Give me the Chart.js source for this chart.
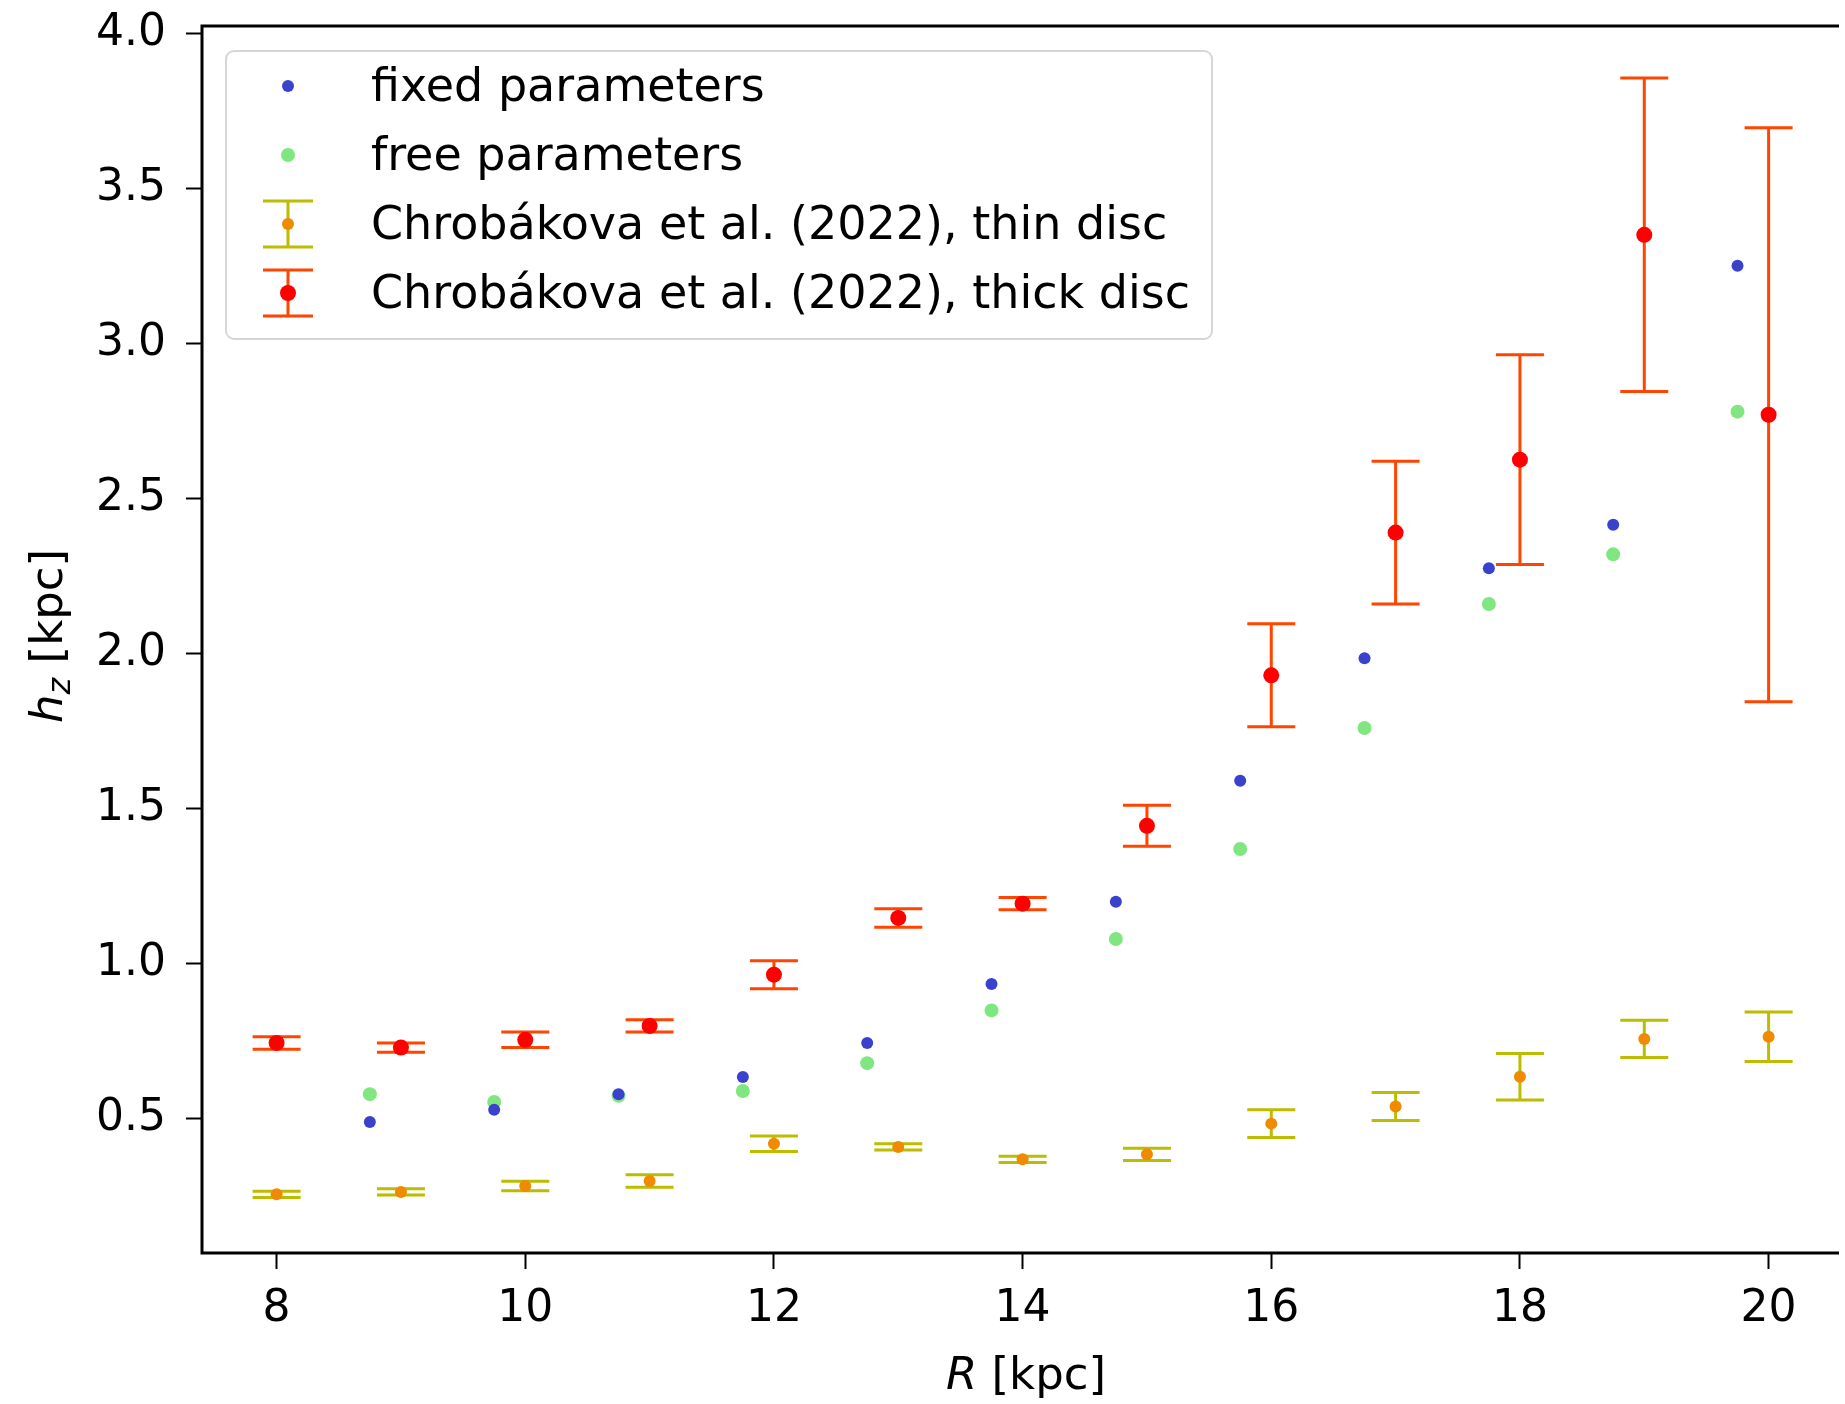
<!DOCTYPE html>
<html>
<head>
<meta charset="utf-8">
<script src="https://cdn.jsdelivr.net/npm/chart.js@4.4.1/dist/chart.umd.min.js"></script>
<style>
html,body{margin:0;padding:0;background:#fff;overflow:hidden;}
canvas{display:block;}
</style>
</head>
<body>
<canvas id="c" width="1845" height="1404"></canvas>
<script>
// ---- data ----
const R_model = [8.75, 9.75, 10.75, 11.75, 12.75, 13.75, 14.75, 15.75, 16.75, 17.75, 18.75, 19.75];
const hz_fixed = [0.49, 0.53, 0.58, 0.635, 0.745, 0.935, 1.20, 1.59, 1.985, 2.275, 2.415, 3.25];
const hz_free  = [0.58, 0.555, 0.575, 0.59, 0.68, 0.85, 1.08, 1.37, 1.76, 2.16, 2.32, 2.78];
const R_chr = [8, 9, 10, 11, 12, 13, 14, 15, 16, 17, 18, 19, 20];
const hz_thin  = [0.257, 0.265, 0.284, 0.30, 0.42, 0.41, 0.37, 0.386, 0.485, 0.54, 0.636, 0.758, 0.765];
const err_thin = [0.01, 0.01, 0.015, 0.02, 0.025, 0.01, 0.01, 0.02, 0.045, 0.045, 0.075, 0.06, 0.08];
const hz_thick  = [0.745, 0.73, 0.755, 0.80, 0.965, 1.148, 1.194, 1.445, 1.93, 2.39, 2.625, 3.35, 2.77];
const err_thick = [0.02, 0.015, 0.025, 0.02, 0.045, 0.03, 0.02, 0.066, 0.166, 0.23, 0.338, 0.505, 0.925];
const xTicks = [8, 10, 12, 14, 16, 18, 20];
const yTicks = [0.5, 1.0, 1.5, 2.0, 2.5, 3.0, 3.5, 4.0];
const legendLabels = ['fixed parameters', 'free parameters',
  'Chrobákova et al. (2022), thin disc', 'Chrobákova et al. (2022), thick disc'];

// ---- styles ----
const C_FIXED = 'rgb(58,66,205)';
const C_FREE = 'rgb(128,230,128)';
const C_THIN_M = '#f08a00';
const C_THIN_E = '#bcbc00';
const C_THICK_M = '#ff0000';
const C_THICK_E = '#ff4500';
const FONT = '"DejaVu Sans", "Liberation Sans", sans-serif';

const pts = (xs, ys) => xs.map((x, i) => ({x: x, y: ys[i]}));

const errorBars = {
  id: 'errorBars',
  beforeDatasetsDraw(chart) {
    const ctx = chart.ctx, xs = chart.scales.x, ys = chart.scales.y, a = chart.chartArea;
    ctx.save();
    ctx.beginPath(); ctx.rect(a.left, a.top, a.right - a.left, a.bottom - a.top); ctx.clip();
    const draw = (vals, errs, color) => {
      ctx.strokeStyle = color; ctx.lineWidth = 3;
      R_chr.forEach((r, i) => {
        const px = xs.getPixelForValue(r);
        const y1 = ys.getPixelForValue(vals[i] + errs[i]);
        const y2 = ys.getPixelForValue(vals[i] - errs[i]);
        ctx.beginPath();
        ctx.moveTo(px, y1); ctx.lineTo(px, y2);
        ctx.moveTo(px - 24, y1); ctx.lineTo(px + 24, y1);
        ctx.moveTo(px - 24, y2); ctx.lineTo(px + 24, y2);
        ctx.stroke();
      });
    };
    draw(hz_thin, err_thin, C_THIN_E);
    draw(hz_thick, err_thick, C_THICK_E);
    ctx.restore();
  },
  afterDraw(chart) {
    const ctx = chart.ctx, a = chart.chartArea;
    ctx.save();
    // spines (right spine lies just outside the picture)
    ctx.strokeStyle = '#000'; ctx.lineWidth = 3;
    ctx.beginPath();
    ctx.moveTo(a.right + 2, a.top); ctx.lineTo(a.left, a.top);
    ctx.lineTo(a.left, a.bottom); ctx.lineTo(a.right + 2, a.bottom);
    ctx.stroke();
    // legend
    const lx = 226, ly = 51, lw = 986, lh = 288, rr = 8;
    ctx.fillStyle = 'rgba(255,255,255,0.8)';
    ctx.strokeStyle = '#d6d6d6'; ctx.lineWidth = 2;
    ctx.beginPath();
    ctx.roundRect(lx, ly, lw, lh, rr);
    ctx.fill(); ctx.stroke();
    const mx = 288, rows = [86, 155, 224, 293];
    const dot = (x, y, r, c) => { ctx.fillStyle = c; ctx.beginPath(); ctx.arc(x, y, r, 0, Math.PI * 2); ctx.fill(); };
    dot(mx, rows[0], 6, C_FIXED);
    dot(mx, rows[1], 7, C_FREE);
    const ebar = (y, ce, cm, r) => {
      ctx.strokeStyle = ce; ctx.lineWidth = 3;
      ctx.beginPath();
      ctx.moveTo(mx, y - 23); ctx.lineTo(mx, y + 23);
      ctx.moveTo(mx - 25, y - 23); ctx.lineTo(mx + 25, y - 23);
      ctx.moveTo(mx - 25, y + 23); ctx.lineTo(mx + 25, y + 23);
      ctx.stroke();
      dot(mx, y, r, cm);
    };
    ebar(rows[2], C_THIN_E, C_THIN_M, 6);
    ebar(rows[3], C_THICK_E, C_THICK_M, 8);
    ctx.fillStyle = '#000';
    ctx.font = '46px ' + FONT;
    ctx.textBaseline = 'middle';
    ctx.textAlign = 'left';
    legendLabels.forEach((t, i) => ctx.fillText(t, 371, rows[i] + 3));
    // x axis title: R [kpc]
    ctx.textBaseline = 'alphabetic';
    const xt1 = 'R', xt2 = ' [kpc]';
    ctx.font = 'italic 45px ' + FONT;
    const w1 = ctx.measureText(xt1).width;
    ctx.font = '45px ' + FONT;
    const w2 = ctx.measureText(xt2).width;
    let sx = 1026 - (w1 + w2) / 2;
    const by = 1389;
    ctx.font = 'italic 45px ' + FONT; ctx.fillText(xt1, sx, by);
    ctx.font = '45px ' + FONT; ctx.fillText(xt2, sx + w1, by);
    // y axis title: h_z [kpc]
    ctx.save();
    ctx.translate(62, 636);
    ctx.rotate(-Math.PI / 2);
    ctx.font = 'italic 45px ' + FONT;
    const hw = ctx.measureText('h').width;
    ctx.font = 'italic 32px ' + FONT;
    const zw = ctx.measureText('z').width;
    ctx.font = '45px ' + FONT;
    const kw = ctx.measureText(' [kpc]').width;
    let tx = -(hw + zw + kw) / 2;
    ctx.font = 'italic 45px ' + FONT; ctx.fillText('h', tx, 0);
    ctx.font = 'italic 32px ' + FONT; ctx.fillText('z', tx + hw, 8);
    ctx.font = '45px ' + FONT; ctx.fillText(' [kpc]', tx + hw + zw, 0);
    ctx.restore();
    ctx.restore();
  }
};

new Chart(document.getElementById('c'), {
  type: 'scatter',
  data: {
    datasets: [
      {label: legendLabels[0], data: pts(R_model, hz_fixed), pointRadius: 6, pointBackgroundColor: C_FIXED, pointBorderWidth: 0},
      {label: legendLabels[1], data: pts(R_model, hz_free), pointRadius: 7, pointBackgroundColor: C_FREE, pointBorderWidth: 0},
      {label: legendLabels[2], data: pts(R_chr, hz_thin), pointRadius: 6, pointBackgroundColor: C_THIN_M, pointBorderWidth: 0},
      {label: legendLabels[3], data: pts(R_chr, hz_thick), pointRadius: 8, pointBackgroundColor: C_THICK_M, pointBorderWidth: 0}
    ]
  },
  options: {
    responsive: false,
    devicePixelRatio: 1,
    animation: false,
    events: [],
    layout: {padding: {top: 26, right: 0, left: 0, bottom: 0}},
    plugins: {legend: {display: false}, tooltip: {enabled: false}},
    scales: {
      x: {
        type: 'linear', min: 7.4, max: 20.55,
        afterBuildTicks: s => { s.ticks = xTicks.map(v => ({value: v})); },
        afterFit: s => { s.height = 151; s.paddingLeft = 0; s.paddingRight = 0; },
        grid: {drawOnChartArea: false, drawTicks: true, tickLength: 16, tickWidth: 2, tickColor: '#000'},
        border: {display: false},
        ticks: {color: '#000', padding: 14, font: {family: FONT, size: 44}, maxRotation: 0,
          callback: v => String(v)}
      },
      y: {
        type: 'linear', min: 0.068, max: 4.023,
        afterBuildTicks: s => { s.ticks = yTicks.map(v => ({value: v})); },
        afterFit: s => { s.width = 202; s.paddingTop = 0; s.paddingBottom = 0; },
        grid: {drawOnChartArea: false, drawTicks: true, tickLength: 16, tickWidth: 2, tickColor: '#000'},
        border: {display: false},
        ticks: {color: '#000', padding: 20, font: {family: FONT, size: 44},
          callback: v => Number(v).toFixed(1)}
      }
    }
  },
  plugins: [errorBars]
});
</script>
</body>
</html>
